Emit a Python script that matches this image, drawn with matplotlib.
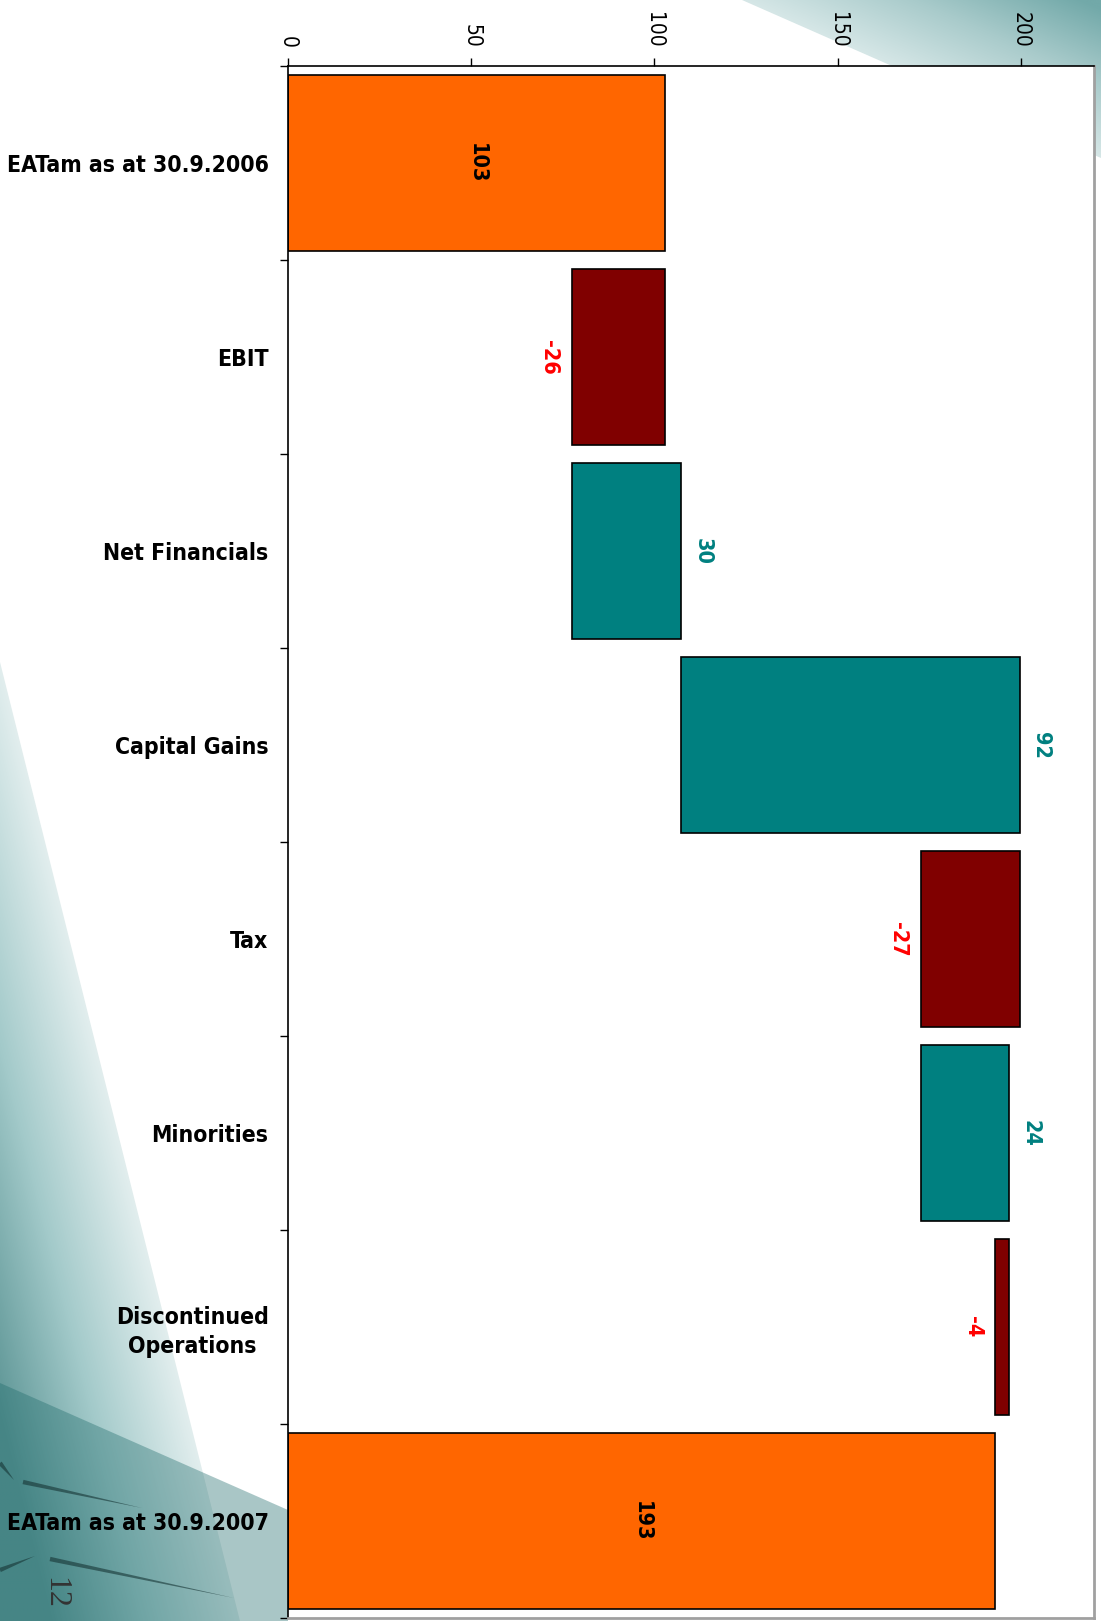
import numpy as np
import matplotlib.pyplot as plt
from matplotlib.colors import LinearSegmentedColormap
from matplotlib.patches import Polygon

# ---- data (EATam bridge 30.9.2006 -> 30.9.2007) ----
categories = ['EATam as at 30.9.2006', 'EBIT', 'Net Financials', 'Capital Gains',
              'Tax', 'Minorities', 'Discontinued\nOperations', 'EATam as at 30.9.2007']
start_value = 103.0
changes = [-25.6, 29.9, 92.4, -27.0, 24.2, -3.8]
end_value = 193.1
xticks = [0, 50, 100, 150, 200]

TOTAL_COLOR = '#FF6600'
UP_COLOR = '#008080'
DOWN_COLOR = '#800000'
UP_TEXT = '#008080'
DOWN_TEXT = '#FF0000'

plt.rcParams['font.family'] = ['DejaVu Sans']
plt.rcParams['font.stretch'] = 'condensed'

# waterfall geometry
lefts, widths, colors = [0], [start_value], [TOTAL_COLOR]
running = start_value
for c in changes:
    new = running + c
    lefts.append(min(running, new))
    widths.append(abs(c))
    colors.append(UP_COLOR if c > 0 else DOWN_COLOR)
    running = new
lefts.append(0)
widths.append(end_value)
colors.append(TOTAL_COLOR)

fig = plt.figure(figsize=(11.01, 16.21), dpi=100)

# ---- slide background decoration ----
bg = fig.add_axes([0, 0, 1, 1])
W, H = 1101, 1621


def gradient_fill(ax, verts, func, extent, cmap):
    poly = Polygon(verts, closed=True, facecolor='none', edgecolor='none')
    ax.add_patch(poly)
    x0, x1, y0, y1 = extent
    X, Y = np.meshgrid(np.linspace(x0, x1, 300), np.linspace(y0, y1, 300))
    im = ax.imshow(np.clip(func(X, Y), 0, 1), extent=[x0, x1, y1, y0], origin='upper',
                   cmap=cmap, vmin=0, vmax=1, aspect='auto', interpolation='bilinear')
    im.set_clip_path(poly)


cmap_tr = LinearSegmentedColormap.from_list('tr', ['#d6e7e7', '#a9cbcb', '#72a9a9'])
gradient_fill(bg, [(742, 0), (W, 0), (W, 158)],
              lambda X, Y: ((X - 742) * 0.44 - Y) / 150, (742, W, 0, 158), cmap_tr)

cmap_l = LinearSegmentedColormap.from_list('lw', ['#e2eeee', '#a3caca', '#5e9696'])
gradient_fill(bg, [(0, 662), (240, H), (0, H)],
              lambda X, Y: (240 * (Y - 662) / 959 - X) / 190, (0, 240, 662, H), cmap_l)

# darker band across the lower left corner
bg.add_patch(Polygon([(0, 1383), (288, 1510), (288, H), (0, H)], closed=True,
                     facecolor='#1f6b6b', edgecolor='none', alpha=0.38))
# thin dark shards
for (xa, ya), (xb, yb) in [((23, 1482), (142, 1508)), ((50, 1559), (234, 1598)),
                           ((0, 1463), (14, 1480)), ((0, 1570), (35, 1556))]:
    dx, dy = xb - xa, yb - ya
    n = np.hypot(dx, dy)
    px, py = -dy / n * 2.2, dx / n * 2.2
    bg.add_patch(Polygon([(xa + px, ya + py), (xa - px, ya - py), (xb, yb)], closed=True,
                         facecolor='#163434', edgecolor='none', alpha=0.6))
# slide page number
bg.text(40, 1577, '12', rotation=270, fontsize=23, family='Liberation Serif',
        color='#333333', ha='left', va='top')
bg.set_xlim(0, W)
bg.set_ylim(H, 0)
bg.axis('off')

# ---- main chart ----
ax = fig.add_axes([288 / W, 3 / H, (1094 - 288) / W, (1618 - 66) / H])
ax.set_facecolor('white')
ypos = np.arange(len(categories))
ax.barh(ypos, widths, left=lefts, height=0.91, color=colors,
        edgecolor='black', linewidth=1.2, zorder=2)

ax.set_xlim(0, 220)
ax.set_ylim(len(categories) - 0.5, -0.5)

ax.xaxis.tick_top()
ax.set_xticks(xticks)
ax.set_xticklabels([str(t) for t in xticks], rotation=270, fontsize=15)
ax.tick_params(axis='x', length=6, width=1, pad=7, top=True, bottom=False)

ax.set_yticks(np.arange(-0.5, len(categories), 1))
ax.set_yticklabels([])
ax.set_yticks(ypos, minor=True)
ax.set_yticklabels(categories, minor=True, fontsize=16.5, fontweight='bold')
ax.tick_params(axis='y', which='major', length=6, width=1, direction='out')
ax.tick_params(axis='y', which='minor', length=0, pad=14)
for lbl in ax.get_yticklabels(minor=True):
    lbl.set_multialignment('center')
    lbl.set_linespacing(1.3)

for s in ['top', 'left']:
    ax.spines[s].set_color('black')
    ax.spines[s].set_linewidth(1.2)
for s in ['right', 'bottom']:
    ax.spines[s].set_color('#a0a0a0')
    ax.spines[s].set_linewidth(2)

# value labels
ax.text(start_value / 2, 0, f"{start_value:.0f}", rotation=270, ha='center', va='center',
        fontsize=15.5, fontweight='bold', color='black', zorder=3)
ax.text(end_value / 2, len(categories) - 1, f"{end_value:.0f}", rotation=270, ha='center',
        va='center', fontsize=15.5, fontweight='bold', color='black', zorder=3)
for i, c in enumerate(changes, start=1):
    if c > 0:
        ax.annotate(f"{c:.0f}", xy=(lefts[i] + widths[i], i), xytext=(8, 0),
                    textcoords='offset points', rotation=270, ha='left', va='center',
                    fontsize=15.5, fontweight='bold', color=UP_TEXT)
    else:
        ax.annotate(f"{c:.0f}", xy=(lefts[i], i), xytext=(-9, 0),
                    textcoords='offset points', rotation=270, ha='right', va='center',
                    fontsize=15.5, fontweight='bold', color=DOWN_TEXT)

fig.savefig('out.png', dpi=100)
